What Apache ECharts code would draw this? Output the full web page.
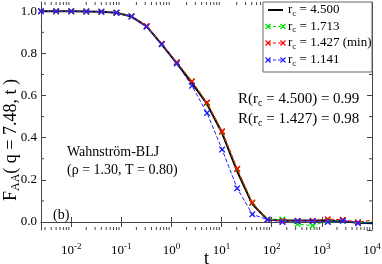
<!DOCTYPE html>
<html>
<head>
<meta charset="utf-8">
<script src="https://cdn.jsdelivr.net/npm/echarts@6/dist/echarts.min.js"></script>
<style>html,body{margin:0;padding:0;background:#fff;}#c{width:382px;height:264px;}</style>
</head>
<body>
<div id="c"></div>
<script>
// ---- data ----
var times = [0.0025,0.005,0.01,0.02,0.04,0.08,0.16,0.32,0.64,1.28,2.56,5.12,10.24,20.48,40.96,81.92,163.84,327.68,655.36,1310.72,2621.44,5242.88,10485.76];
var rc4500 = [1.0,1.0,1.0,0.999,0.998,0.993,0.975,0.928,0.843,0.753,0.660,0.560,0.422,0.240,0.085,0.012,0.007,0.007,0.007,0.006,0.004,-0.004,-0.006];
var rc1713 = [1.0,1.0,1.0,0.999,0.998,0.993,0.976,0.929,0.845,0.757,0.668,0.565,0.428,0.250,0.090,0.012,0.012,-0.010,-0.017,0.005,0.006,-0.004,0.002];
var rc1427 = [1.0,1.0,1.0,0.999,0.998,0.993,0.976,0.930,0.846,0.758,0.667,0.567,0.431,0.253,0.093,0.011,0.005,0.006,0.006,0.013,0.011,-0.001,0.010];
var rc1141 = [1.0,1.0,1.0,0.999,0.998,0.993,0.975,0.926,0.843,0.752,0.646,0.517,0.344,0.160,0.037,0.011,0.000,0.005,0.003,0.000,0.006,-0.006,-0.004];
var seriesNames = ['r_c = 4.500','r_c = 1.713','r_c = 1.427 (min)','r_c = 1.141'];
var legendLabels = ['4.500','1.713','1.427 (min)','1.141'];
var xMin = 0.0025, xMax = 10000, yMin = -0.038, yMax = 1.044;
var xMinorTicks = [];
[-3,-2,-1,0,1,2,3].forEach(function(k){ for (var m=2;m<=9;m++){ var v=m*Math.pow(10,k); if (v>xMin && v<xMax) xMinorTicks.push(v);} });
var yMinorTicks = [0.1,0.3,0.5,0.7,0.9];

var SERIF = '"Liberation Serif","DejaVu Serif",serif';
var frameColor = '#444';
var XPATH = 'path://M0,0 L1.6,0 L5,3.4 L8.4,0 L10,0 L10,1.6 L6.6,5 L10,8.4 L10,10 L8.4,10 L5,6.6 L1.6,10 L0,10 L0,8.4 L3.4,5 L0,1.6 Z';
function pairs(ys){ return times.map(function(t,i){ return [t, ys[i]]; }); }

var chart = echarts.init(document.getElementById('c'), null, {renderer:'canvas'});

var xAxisBase = {
  type:'log', logBase:10, min:xMin, max:xMax,
  axisLine:{show:true, lineStyle:{color:frameColor, width:1}},
  axisTick:{show:true, inside:true, length:5, lineStyle:{color:frameColor}},
  splitLine:{show:false}, minorTick:{show:false}
};
var yAxisBase = {
  type:'value', min:yMin, max:yMax, splitNumber:5,
  axisLine:{show:true, lineStyle:{color:frameColor, width:1}},
  axisTick:{show:true, inside:true, length:5, lineStyle:{color:frameColor}},
  splitLine:{show:false}, minorTick:{show:false}
};

function tickSeries(){
  return {
    type:'custom', xAxisIndex:0, yAxisIndex:0, silent:true, z:1,
    data: xMinorTicks.map(function(v){ return [v, yMin, 0]; }).concat(yMinorTicks.map(function(v){ return [xMin, v, 1]; })),
    renderItem:function(params, api){
      var kind = api.value(2);
      var st = {stroke:frameColor, lineWidth:1};
      if (kind === 0) {
        var b = api.coord([api.value(0), yMin]);
        var t = api.coord([api.value(0), yMax]);
        return {type:'group', children:[
          {type:'line', shape:{x1:b[0],y1:b[1],x2:b[0],y2:b[1]-3}, style:st},
          {type:'line', shape:{x1:t[0],y1:t[1],x2:t[0],y2:t[1]+3}, style:st}
        ]};
      } else {
        var l = api.coord([xMin, api.value(1)]);
        var r = api.coord([xMax, api.value(1)]);
        return {type:'group', children:[
          {type:'line', shape:{x1:l[0],y1:l[1],x2:l[0]+3,y2:l[1]}, style:st},
          {type:'line', shape:{x1:r[0],y1:r[1],x2:r[0]-3,y2:r[1]}, style:st}
        ]};
      }
    }
  };
}

var colors = ['#000000','#00e000','#ff0000','#2020ff'];
var dataSets = [rc4500, rc1713, rc1427, rc1141];

var series = [tickSeries()];
dataSets.forEach(function(ys, i){
  series.push({
    name: seriesNames[i], type:'line', xAxisIndex:0, yAxisIndex:0,
    data: pairs(ys), clip:true, z: 2+i,
    showSymbol: i>0, symbol: XPATH, symbolSize: 6,
    itemStyle:{color:colors[i]},
    lineStyle:{color:colors[i], width: i===0 ? 2 : 1, type: i===0 ? 'solid' : [4,2]},
    animation:false
  });
});

// legend drawn with graphic
var legX = 263, legY = 2, legW = 109, legH = 70;
var rowY = [10, 26.5, 43, 60];
var graphics = [];
graphics.push({type:'rect', shape:{x:legX, y:legY, width:legW, height:legH}, style:{fill:'#fff', stroke:'#666', lineWidth:1}, z:50});
function xMark(cx, cy, col){
  return [
    {type:'line', shape:{x1:cx-2.5,y1:cy-2.5,x2:cx+2.5,y2:cy+2.5}, style:{stroke:col, lineWidth:1.3}, z:52},
    {type:'line', shape:{x1:cx-2.5,y1:cy+2.5,x2:cx+2.5,y2:cy-2.5}, style:{stroke:col, lineWidth:1.3}, z:52}
  ];
}
var subRich = {
  n:{fontFamily:SERIF, fontSize:13, lineHeight:16, color:'#000'},
  s:{fontFamily:SERIF, fontSize:9, lineHeight:16, color:'#000', verticalAlign:'bottom', padding:[7,0,0,0]}
};
rowY.forEach(function(y, i){
  graphics.push({type:'line', shape:{x1:268,y1:y,x2:283,y2:y}, style:{stroke:colors[i], lineWidth: i===0?2:1, lineDash: i===0?null:[3,2]}, z:51});
  if (i>0) { graphics = graphics.concat(xMark(268,y,colors[i])).concat(xMark(283,y,colors[i])); }
  graphics.push({type:'text', x:288, y:y, z:52, style:{text:'{n|r}{s|c}{n| = '+legendLabels[i]+'}', rich:subRich, verticalAlign:'middle', align:'left'}});
});

var annRich = {
  n:{fontFamily:SERIF, fontSize:15, lineHeight:18, color:'#000'},
  s:{fontFamily:SERIF, fontSize:10, lineHeight:18, color:'#000', padding:[8,0,0,0]}
};
graphics.push({type:'text', x:238, y:99, z:40, style:{text:'{n|R(r}{s|c}{n| = 4.500) = 0.99}', rich:annRich, verticalAlign:'middle', align:'left'}});
graphics.push({type:'text', x:238, y:119, z:40, style:{text:'{n|R(r}{s|c}{n| = 1.427) = 0.98}', rich:annRich, verticalAlign:'middle', align:'left'}});
graphics.push({type:'text', x:67, y:152, z:40, style:{text:'Wahnström-BLJ', font:'14px '+SERIF, fill:'#000', verticalAlign:'middle', align:'left'}});
graphics.push({type:'text', x:67, y:170, z:40, style:{text:'(ρ = 1.30, T = 0.80)', font:'14px '+SERIF, fill:'#000', verticalAlign:'middle', align:'left'}});
graphics.push({type:'text', x:53, y:215, z:40, style:{text:'(b)', font:'14px '+SERIF, fill:'#000', verticalAlign:'middle', align:'left'}});

var titleRich = {
  n:{fontFamily:SERIF, fontSize:18, lineHeight:22, color:'#000'},
  s:{fontFamily:SERIF, fontSize:12, lineHeight:22, color:'#000', padding:[10,0,0,0]}
};
graphics.push({type:'text', x:11, y:140, rotation:Math.PI/2, z:40, style:{text:'{n|F}{s|AA}{n|( q = 7.48, t )}', rich:titleRich, verticalAlign:'middle', align:'center'}});

var option = {
  animation:false,
  backgroundColor:'#fff',
  grid:{left:41, right:10, top:2, bottom:34, containLabel:false, outerBoundsMode:'none'},
  xAxis:[
    Object.assign({}, xAxisBase, {
      position:'bottom',
      name:'t', nameLocation:'middle', nameGap:20, nameMoveOverlap:false,
      nameTextStyle:{fontFamily:SERIF, fontSize:18, color:'#000', lineHeight:18},
      axisLabel:{
        show:true, margin:12, showMinLabel:false, color:'#000',
        formatter:function(v){ var e=Math.round(Math.log10(v)); return '{n|10}{sup|'+e+'}'; },
        rich:{
          n:{fontFamily:SERIF, fontSize:13, lineHeight:18, color:'#000'},
          sup:{fontFamily:SERIF, fontSize:9, lineHeight:18, color:'#000', verticalAlign:'top', padding:[0,0,7,0]}
        }
      }
    }),
    Object.assign({}, xAxisBase, {position:'top', axisLabel:{show:false}})
  ],
  yAxis:[
    Object.assign({}, yAxisBase, {
      position:'left',
      axisLabel:{show:true, margin:4, showMinLabel:false, showMaxLabel:false, color:'#000',
        fontFamily:SERIF, fontSize:13,
        formatter:function(v){ return Math.abs(v*5 - Math.round(v*5))<1e-6 ? v.toFixed(1) : ''; }}
    }),
    Object.assign({}, yAxisBase, {position:'right', axisLabel:{show:false}})
  ],
  series: series,
  graphic: graphics
};
chart.setOption(option);
</script>
</body>
</html>
